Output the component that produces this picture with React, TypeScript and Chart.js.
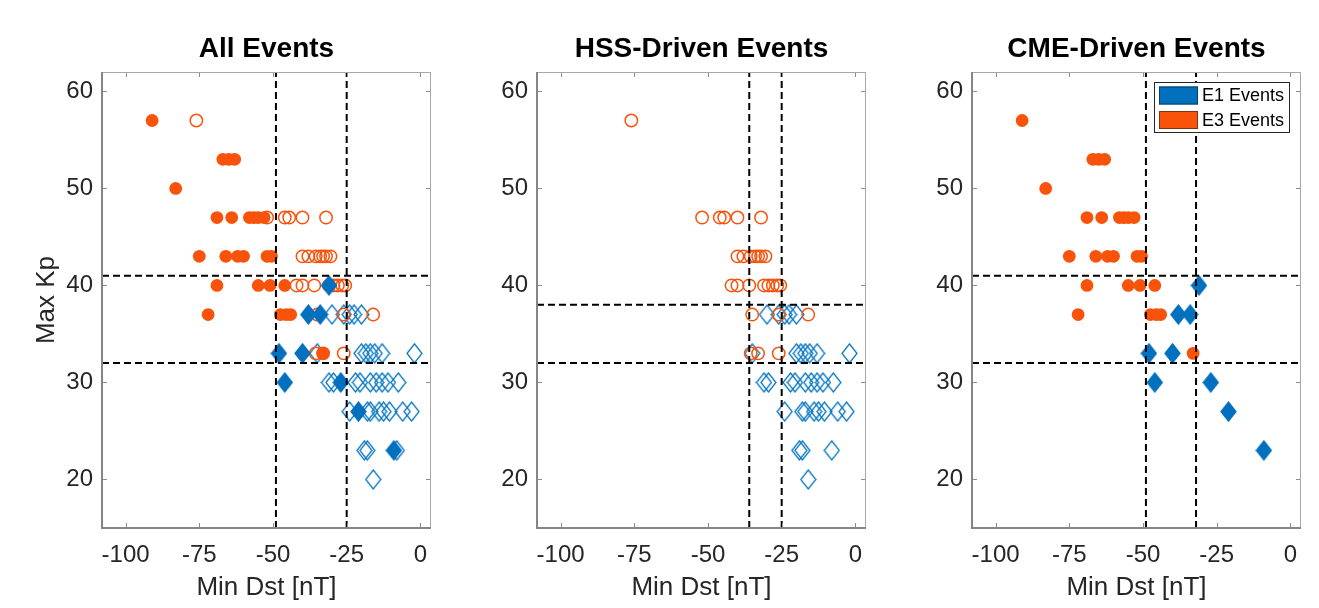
import React, { useEffect, useRef } from 'react';
import { Chart, registerables } from 'chart.js';

Chart.register(...registerables);

const FONT = "'Liberation Sans', Arial, Helvetica, sans-serif";
const ORANGE = '#F9520B';
const BLUE = '#0070BF';
const BLUE_EDGE = '#0a78c2';

const panelTitles = ['All Events', 'HSS-Driven Events', 'CME-Driven Events'];
const xTicks = [-100, -75, -50, -25, 0];
const yTicks = [20, 30, 40, 50, 60];
const xRange = [-108, 3.6];
const yRange = [15, 62];
const xTitle = 'Min Dst [nT]';
const yTitle = 'Max Kp';
const legendLabels = ['E1 Events', 'E3 Events'];

// E3 events driven by CMEs (filled circles)
const e3CmeDst = [-91, -67, -65, -63, -83, -69, -64, -58, -56.5, -55, -53, -75, -66, -62, -60, -52, -50.5, -69, -55, -51, -46, -72, -47.5, -45.5, -44, -33];
const e3CmeKp = [57, 53, 53, 53, 50, 47, 47, 47, 47, 47, 47, 43, 43, 43, 43, 43, 43, 40, 40, 40, 40, 37, 37, 37, 37, 33];

// E1 events driven by CMEs (filled diamonds)
const e1CmeDst = [-31, -38, -34, -48, -40, -46, -27, -21, -9];
const e1CmeKp = [40, 37, 37, 33, 33, 30, 30, 27, 23];

// E3 events driven by high-speed streams (open circles)
const e3HssDst = [-76, -52, -46, -44.5, -40, -32, -40, -38, -35.5, -34, -33, -32, -30.5, -42, -40, -36, -31, -29.5, -28, -26.5, -25.5, -35, -26, -16, -35.5, -33, -26];
const e3HssKp = [57, 47, 47, 47, 47, 47, 43, 43, 43, 43, 43, 43, 43, 40, 40, 40, 40, 40, 40, 40, 40, 37, 37, 37, 33, 33, 33];

// E1 events driven by high-speed streams (open diamonds)
const e1HssDst = [-30, -26, -24, -22.5, -20, -35, -20, -18.5, -17, -15.5, -13, -2, -31, -29.5, -22, -20.5, -17, -15, -13, -11, -7.5, -24, -18, -17, -14, -12.5, -10.5, -6, -3, -19, -18, -8, -16];
const e1HssKp = [37, 37, 37, 37, 37, 33, 33, 33, 33, 33, 33, 33, 30, 30, 30, 30, 30, 30, 30, 30, 30, 27, 27, 27, 27, 27, 27, 27, 27, 23, 23, 23, 20];

// Threshold lines for each panel
const dstThresholds = [[-49, -25], [-36, -25], [-49, -32]];
const kpThresholds = [[41, 32], [38, 32], [41, 32]];

const toPoints = (xs: number[], ys: number[]) => xs.map((x, i) => ({ x, y: ys[i] }));

function makeDiamond(filled: boolean): HTMLCanvasElement {
  const w = 17;
  const h = 21;
  const c = document.createElement('canvas');
  c.width = w;
  c.height = h;
  const ctx = c.getContext('2d')!;
  ctx.beginPath();
  ctx.moveTo(w / 2, 1);
  ctx.lineTo(w - 1, h / 2);
  ctx.lineTo(w / 2, h - 1);
  ctx.lineTo(1, h / 2);
  ctx.closePath();
  if (filled) {
    ctx.fillStyle = BLUE;
    ctx.fill();
    ctx.strokeStyle = BLUE;
  } else {
    ctx.strokeStyle = BLUE_EDGE;
  }
  ctx.lineWidth = 1.3;
  ctx.stroke();
  return c;
}

const framePlugin = {
  id: 'axesFrame',
  afterDatasetsDraw(chart: any) {
    const { ctx, chartArea: a, scales } = chart;
    ctx.save();
    ctx.strokeStyle = '#8c8c8c';
    ctx.lineWidth = 1;
    ctx.beginPath();
    for (const v of xTicks) {
      const px = Math.round(scales.x.getPixelForValue(v)) + 0.5;
      ctx.moveTo(px, a.bottom);
      ctx.lineTo(px, a.bottom - 5);
      ctx.moveTo(px, a.top);
      ctx.lineTo(px, a.top + 5);
    }
    for (const v of yTicks) {
      const py = Math.round(scales.y.getPixelForValue(v)) + 0.5;
      ctx.moveTo(a.left, py);
      ctx.lineTo(a.left + 5, py);
      ctx.moveTo(a.right, py);
      ctx.lineTo(a.right - 5, py);
    }
    ctx.stroke();
    ctx.strokeStyle = '#a8a8a8';
    ctx.lineWidth = 1;
    ctx.strokeRect(a.left + 0.5, a.top + 0.5, a.width - 1, a.height - 1);
    ctx.strokeStyle = '#858585';
    ctx.lineWidth = 2;
    ctx.beginPath();
    ctx.moveTo(a.left, a.top);
    ctx.lineTo(a.left, a.bottom);
    ctx.lineTo(a.right, a.bottom);
    ctx.stroke();
    ctx.restore();
  },
};

const legendPlugin = {
  id: 'eventLegend',
  afterDraw(chart: any) {
    const { ctx, chartArea: a } = chart;
    const w = 136;
    const h = 51;
    const left = a.right - 11 - w;
    const top = a.top + 10;
    ctx.save();
    ctx.fillStyle = '#ffffff';
    ctx.fillRect(left, top, w, h);
    ctx.strokeStyle = '#262626';
    ctx.lineWidth = 1;
    ctx.strokeRect(left + 0.5, top + 0.5, w - 1, h - 1);
    const colors = [BLUE, ORANGE];
    const edges = ['#0b3f66', '#7a3516'];
    legendLabels.forEach((label, i) => {
      const cy = top + 13.5 + i * 24.5;
      ctx.fillStyle = colors[i];
      ctx.fillRect(left + 5, cy - 9, 39, 18);
      ctx.strokeStyle = edges[i];
      ctx.lineWidth = 1;
      ctx.strokeRect(left + 5.5, cy - 8.5, 38, 17);
      ctx.fillStyle = '#000000';
      ctx.font = `18px ${FONT}`;
      ctx.textBaseline = 'middle';
      ctx.textAlign = 'left';
      ctx.fillText(label, left + 48, cy + 1);
    });
    ctx.restore();
  },
};

const Y_AXIS_W = 71;
const PLOT_W = 329;
const PAD_RIGHT = 10;
const CANVAS_W = Y_AXIS_W + PLOT_W + PAD_RIGHT;
const CANVAS_H = 600;

function Panel({ index }: { index: number }) {
  const ref = useRef<HTMLCanvasElement | null>(null);

  useEffect(() => {
    if (!ref.current) return;
    const filledDiamond = makeDiamond(true);
    const openDiamond = makeDiamond(false);
    const showHss = index !== 2;
    const showCme = index !== 1;
    const [vx1, vx2] = dstThresholds[index];
    const [hy1, hy2] = kpThresholds[index];

    const dashed = (data: { x: number; y: number }[]) => ({
      type: 'line' as const,
      data,
      borderColor: '#000000',
      borderWidth: 2,
      borderDash: [7, 4],
      pointRadius: 0,
      fill: false,
      order: 0,
    });

    const datasets: any[] = [
      dashed([{ x: vx1, y: yRange[0] }, { x: vx1, y: yRange[1] }]),
      dashed([{ x: vx2, y: yRange[0] }, { x: vx2, y: yRange[1] }]),
      dashed([{ x: xRange[0], y: hy1 }, { x: xRange[1], y: hy1 }]),
      dashed([{ x: xRange[0], y: hy2 }, { x: xRange[1], y: hy2 }]),
    ];
    if (showCme) {
      datasets.push({
        type: 'scatter',
        data: toPoints(e3CmeDst, e3CmeKp),
        pointStyle: 'circle',
        pointRadius: 6.4,
        backgroundColor: ORANGE,
        borderColor: ORANGE,
        borderWidth: 0,
        order: 1,
      });
      datasets.push({
        type: 'scatter',
        data: toPoints(e1CmeDst, e1CmeKp),
        pointStyle: filledDiamond,
        pointRadius: 9,
        order: 2,
      });
    }
    if (showHss) {
      datasets.push({
        type: 'scatter',
        data: toPoints(e3HssDst, e3HssKp),
        pointStyle: 'circle',
        pointRadius: 6.2,
        backgroundColor: 'rgba(0,0,0,0)',
        borderColor: ORANGE,
        borderWidth: 1.5,
        order: 3,
      });
      datasets.push({
        type: 'scatter',
        data: toPoints(e1HssDst, e1HssKp),
        pointStyle: openDiamond,
        pointRadius: 9,
        order: 4,
      });
    }

    const chart = new Chart(ref.current, {
      type: 'scatter',
      data: { datasets },
      plugins: index === 2 ? [framePlugin, legendPlugin] : [framePlugin],
      options: {
        responsive: false,
        animation: false,
        events: [],
        devicePixelRatio: 1,
        layout: { padding: { left: 0, right: PAD_RIGHT, top: 0, bottom: 0 } },
        plugins: {
          legend: { display: false },
          tooltip: { enabled: false },
          title: {
            display: true,
            text: panelTitles[index],
            fullSize: false,
            color: '#000000',
            font: { family: FONT, size: 28, weight: 'bold', lineHeight: 1.2 },
            padding: { top: 24.8, bottom: 5.6 },
          },
        },
        scales: {
          x: {
            type: 'linear',
            min: xRange[0],
            max: xRange[1],
            grid: { display: false, drawTicks: false },
            border: { display: false },
            afterBuildTicks: (s: any) => {
              s.ticks = xTicks.map((v) => ({ value: v }));
            },
            afterFit: (s: any) => {
              s.height = 80;
              s.paddingLeft = 0;
              s.paddingRight = 0;
            },
            ticks: {
              color: '#262626',
              padding: 13,
              maxRotation: 0,
              autoSkip: false,
              font: { family: FONT, size: 24 },
              callback: (v: any) => String(v),
            },
            title: {
              display: true,
              text: xTitle,
              color: '#262626',
              font: { family: FONT, size: 26, lineHeight: 1.2 },
              padding: { top: 0, bottom: 5 },
            },
          },
          y: {
            type: 'linear',
            min: yRange[0],
            max: yRange[1],
            grid: { display: false, drawTicks: false },
            border: { display: false },
            afterBuildTicks: (s: any) => {
              s.ticks = yTicks.map((v) => ({ value: v }));
            },
            afterFit: (s: any) => {
              s.width = Y_AXIS_W;
              s.paddingTop = 0;
              s.paddingBottom = 0;
            },
            ticks: {
              color: '#262626',
              padding: 9,
              autoSkip: false,
              font: { family: FONT, size: 24 },
              callback: (v: any) => String(v),
            },
            title: {
              display: index === 0,
              text: yTitle,
              color: '#262626',
              font: { family: FONT, size: 26, lineHeight: 1.2 },
              padding: { top: 0, bottom: 0 },
            },
          },
        },
      } as any,
    });
    return () => chart.destroy();
  }, [index]);

  return (
    <canvas
      ref={ref}
      width={CANVAS_W}
      height={CANVAS_H}
      style={{
        position: 'absolute',
        left: 23 + 435 * index,
        top: 0,
        width: CANVAS_W,
        height: CANVAS_H,
      }}
    />
  );
}

export default function App() {
  useEffect(() => {
    document.documentElement.style.overflow = 'hidden';
    document.body.style.overflow = 'hidden';
  }, []);

  return (
    <div style={{ position: 'relative', width: 1311, height: 600, background: '#ffffff' }}>
      {[0, 1, 2].map((i) => (
        <Panel key={i} index={i} />
      ))}
      {/* figure frame along the top and left edges */}
      <div
        style={{
          position: 'absolute',
          left: -2,
          top: -2,
          width: 1321,
          height: 610,
          borderTop: '2px solid #b4b4b4',
          borderLeft: '2px solid #b4b4b4',
          boxSizing: 'border-box',
          pointerEvents: 'none',
          zIndex: 2,
        }}
      />
    </div>
  );
}
